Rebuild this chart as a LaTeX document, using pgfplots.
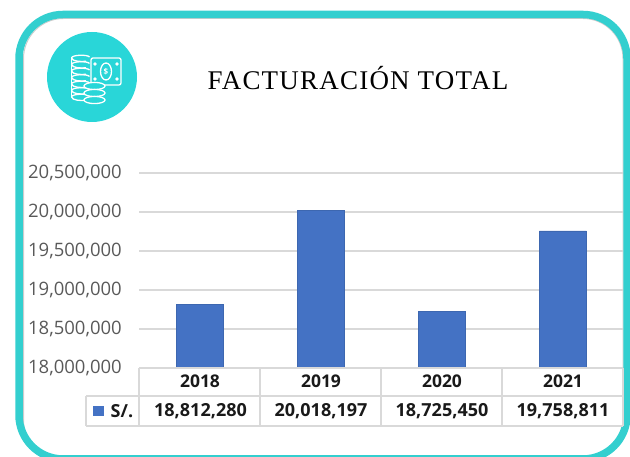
\documentclass[border=0pt]{standalone}
\usepackage{fontspec}
\setmainfont{Open Sans}
\newfontfamily\titlefont[LetterSpace=4.5]{Liberation Serif}
\usepackage{pgfplots}
\pgfplotsset{compat=1.18}
\definecolor{frame}{HTML}{33CFCF}
\definecolor{disc}{HTML}{29D6D8}
\definecolor{barblue}{HTML}{4472C4}
\definecolor{ticktxt}{HTML}{595959}
\definecolor{gridc}{HTML}{D9D9D9}
\definecolor{tabc}{HTML}{D9D9D9}
\begin{document}
\begin{tikzpicture}[x=1pt,y=1pt]
\useasboundingbox (0,0) rectangle (630,457);
\begin{scope}
\clip (0,0) rectangle (630,457);
% thin grey inner shadow and frame
\draw[gray!40,line width=1pt,rounded corners=40pt] (23.5,-3) rectangle (623,438.5);
\draw[frame,line width=7.5pt,rounded corners=44pt] (19,-2) rectangle (627,442.5);
\end{scope}
% icon
\fill[disc] (92,380) circle (45);
\begin{scope}[white,line width=1.3pt]
 \foreach \y in {399,392.5,386,379.5,373,366.5,360}{
   \draw (71.5,\y) .. controls (72,\y+3.5) and (88,\y+3.5) .. (89.5,\y+1);
   \draw (71.5,\y) .. controls (72,\y-3.5) and (82,\y-4) .. (86,\y-3.2);
 }
 \draw (71.5,399) -- (71.5,360);
 \draw[fill=disc,rounded corners=2pt] (91,399) rectangle (121,372);
 \draw (106,385.5) ellipse (5.5 and 8.5);
 \node[font=\fontsize{8}{8}\selectfont\bfseries,text=white,inner sep=0] at (106,385.5) {\$};
 \fill (95,393) circle (1.8) (117,393) circle (1.8) (95,378) circle (1.8) (117,378) circle (1.8);
 \foreach \y in {371,364,357}{
   \draw[fill=disc] (94.5,\y) ellipse (10.5 and 3.6);
 }
\end{scope}
% title
\node[font=\titlefont\fontsize{27}{27}\selectfont,text=black,inner sep=0] at (358,379) {FACTURACIÓN TOTAL};
% chart
\begin{axis}[
  at={(139.5pt,89pt)},anchor=south west,
  scale only axis,width=484pt,height=195pt,
  xmin=-0.5,xmax=3.5,ymin=18000000,ymax=20500000,
  ytick={18000000,18500000,19000000,19500000,20000000,20500000},
  yticklabel style={/pgf/number format/fixed,/pgf/number format/1000 sep={,},/pgf/number format/assume math mode=true,
     font=\fontsize{18.5}{18}\selectfont,text=ticktxt,inner xsep=0pt,xshift=-17.5pt},
  scaled y ticks=false,
  xtick={0,1,2,3},xticklabels={2018,2019,2020,2021},
  xticklabel style={font=\fontsize{17.5}{18}\selectfont\bfseries,text=black!90,yshift=-3.5pt},
  major tick length=0pt,
  axis line style={draw=none},
  ymajorgrids,grid style={gridc,line width=1.7pt},
  axis on top=false,clip=false,
  ybar,bar width=47pt,bar shift=0pt,
]
\addplot[fill=barblue,draw=barblue!90!black,line width=0.4pt] coordinates {(0,18812280)(1,20018197)(2,18725450)(3,19758811)};
\end{axis}
% data table
\begin{scope}[tabc,line width=1.5pt]
 \draw (139,89) -- (623,89);
 \draw (86,61) -- (623,61);
 \draw (86,31) -- (623,31);
 \draw (86,31) -- (86,61);
 \foreach \x in {139,260,381,502,623}{\draw (\x,31) -- (\x,89);}
\end{scope}
\fill[barblue] (93,41) rectangle (104,51);
\node[font=\fontsize{18}{18}\selectfont\bfseries,text=black!90,anchor=west,inner sep=0] at (110.5,46) {S/.};
\foreach \x/\t in {200.5/18{,}812{,}280,321/20{,}018{,}197,442/18{,}725{,}450,563/19{,}758{,}811}{
 \node[font=\fontsize{18}{18}\selectfont\bfseries,text=black!90,inner sep=0] at (\x,45.5) {\t};
}
\end{tikzpicture}
\end{document}
